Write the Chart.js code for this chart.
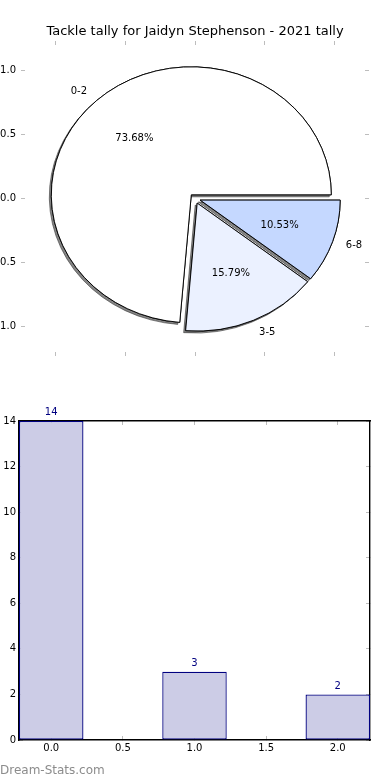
<!DOCTYPE html>
<html>
<head>
<meta charset="utf-8">
<script src="https://cdn.jsdelivr.net/npm/chart.js@4"></script>
<style>
  html, body { margin: 0; padding: 0; background: #fff; }
  #wrap { position: relative; width: 390px; height: 780px; overflow: hidden; }
  #pie { position: absolute; left: 0; top: 0; }
  #bars { position: absolute; left: 0; top: 380px; }
  #mark { position: absolute; left: 0; top: 763px; font: 12px "DejaVu Sans", sans-serif; color: #8c8c8c; }
</style>
</head>
<body>
<div id="wrap">
  <canvas id="pie" width="390" height="380"></canvas>
  <canvas id="bars" width="390" height="400"></canvas>
  <div id="mark">Dream-Stats.com</div>
</div>
<script>
// Données
const TITLE = "Tackle tally for Jaidyn Stephenson - 2021 tally";
const RANGES = ["0-2", "3-5", "6-8"];
const COUNTS = [14, 3, 2];
const BAR_X = [0, 1, 2];

// Styles
const PIE_COLORS = ["#ffffff", "#ebf1ff", "#c5d8ff"];
const FONT = "'DejaVu Sans', sans-serif";
const TICK_GRAY = "#bdbdbd";
const STRETCH_X = 140 / 128;   // la figure d'origine n'a pas un repère égal
const EXPLODE = 5;
const TOTAL = COUNTS.reduce((s, v) => s + v, 0);

Chart.defaults.font.family = FONT;
Chart.defaults.font.size = 10;
Chart.defaults.color = "#000";

function fixWidth(w) { return s => { s.width = w; }; }
function fixHeight(h) { return s => { s.height = h; }; }

function tickAxis(extra) {
  return Object.assign({
    type: "linear",
    offset: false,
    border: { display: false },
    grid: { drawOnChartArea: false, drawTicks: true, tickLength: -4, color: TICK_GRAY, offset: false },
    ticks: { display: false, includeBounds: false }
  }, extra);
}

// ===== Camembert =====
// Chart.js tourne dans le sens horaire : on inverse l'ordre pour retrouver le sens de matplotlib
const pieLabels = RANGES.slice().reverse();
const pieValues = COUNTS.slice().reverse();
const pieColors = PIE_COLORS.slice().reverse();

const pieDraw = {
  id: "pieDraw",
  beforeDatasetsDraw(chart) {
    const ctx = chart.ctx;
    const arcs = chart.getDatasetMeta(0).data;
    const cx = arcs[0].x, cy = arcs[0].y;
    ctx.save();
    ctx.translate(cx, cy);
    ctx.scale(STRETCH_X, 1);
    ctx.translate(-cx, -cy);
    [true, false].forEach(shadow => {
      arcs.forEach(arc => {
        const mid = (arc.startAngle + arc.endAngle) / 2;
        ctx.save();
        if (shadow) {
          ctx.shadowColor = "rgba(50,50,50,0.6)";
          ctx.shadowOffsetX = -2;
          ctx.shadowOffsetY = 2;
          ctx.shadowBlur = 0;
        }
        ctx.translate(Math.cos(mid) * EXPLODE, Math.sin(mid) * EXPLODE);
        arc.draw(ctx);
        ctx.restore();
      });
    });
    ctx.restore();
    return false;
  },
  afterDraw(chart) {
    const ctx = chart.ctx;
    const arcs = chart.getDatasetMeta(0).data;
    ctx.save();
    ctx.font = "10px " + FONT;
    ctx.fillStyle = "#000";
    ctx.textBaseline = "middle";
    arcs.forEach((arc, i) => {
      const mid = (arc.startAngle + arc.endAngle) / 2;
      const c = Math.cos(mid), s = Math.sin(mid);
      const R = arc.outerRadius;
      const lx = arc.x + c * (EXPLODE + 1.1 * R) * STRETCH_X;
      const ly = arc.y + s * (EXPLODE + 1.1 * R);
      ctx.textAlign = c > 0 ? "left" : "right";
      ctx.fillText(pieLabels[i], lx, ly);
      const px = arc.x + c * (EXPLODE + 0.6 * R) * STRETCH_X;
      const py = arc.y + s * (EXPLODE + 0.6 * R);
      ctx.textAlign = "center";
      ctx.fillText((pieValues[i] / TOTAL * 100).toFixed(2) + "%", px, py);
    });
    ctx.restore();
  }
};

new Chart(document.getElementById("pie"), {
  type: "pie",
  data: {
    labels: pieLabels,
    datasets: [{
      data: pieValues,
      backgroundColor: pieColors,
      borderColor: "#000",
      borderWidth: 0.9,
      borderJoinStyle: "miter",
      radius: 128
    }]
  },
  options: {
    responsive: false,
    animation: false,
    events: [],
    rotation: 90,
    layout: { padding: 0 },
    plugins: {
      legend: { display: false },
      tooltip: { enabled: false },
      title: {
        display: true,
        text: TITLE,
        color: "#000",
        font: { family: FONT, size: 13, weight: "normal" },
        padding: { top: 24, bottom: 1.4 }
      }
    },
    scales: {
      x: tickAxis({ position: "bottom", min: -1.243, max: 1.243, afterFit: fixHeight(24), ticks: { display: false, includeBounds: false, stepSize: 0.5 } }),
      x2: tickAxis({ position: "top", axis: "x", min: -1.243, max: 1.243, afterFit: fixHeight(0), ticks: { display: false, includeBounds: false, stepSize: 0.5 } }),
      y: tickAxis({
        position: "left", min: -1.23, max: 1.23, afterFit: fixWidth(21),
        ticks: { display: true, includeBounds: false, stepSize: 0.5, padding: 9, color: "#000", callback: v => v.toFixed(1) }
      }),
      y2: tickAxis({ position: "right", axis: "y", min: -1.23, max: 1.23, afterFit: fixWidth(21), ticks: { display: false, includeBounds: false, stepSize: 0.5 } })
    }
  },
  plugins: [pieDraw]
});

// ===== Histogramme =====
const barValueLabels = {
  id: "barValueLabels",
  afterDraw(chart) {
    const ctx = chart.ctx;
    ctx.save();
    ctx.font = "10px " + FONT;
    ctx.fillStyle = "#000080";
    ctx.textAlign = "center";
    ctx.textBaseline = "middle";
    chart.getDatasetMeta(0).data.forEach((bar, i) => {
      ctx.fillText(String(COUNTS[i]), bar.x, bar.y - 8.5);
    });
    ctx.restore();
  }
};

function frameAxis(extra) {
  const a = tickAxis(extra);
  a.border = { display: true, color: "#000", width: 1.4 };
  return a;
}

new Chart(document.getElementById("bars"), {
  type: "bar",
  data: {
    datasets: [{
      data: BAR_X.map((x, i) => ({ x: x, y: COUNTS[i] })),
      backgroundColor: "rgb(204,204,230)",
      borderColor: "#000080",
      borderWidth: 1.3,
      borderSkipped: false,
      categoryPercentage: 1,
      barPercentage: 0.9
    }]
  },
  options: {
    responsive: false,
    animation: false,
    events: [],
    layout: { padding: 0 },
    plugins: { legend: { display: false }, tooltip: { enabled: false } },
    scales: {
      x: frameAxis({
        position: "bottom", min: -0.225, max: 2.225, afterFit: fixHeight(40),
        ticks: { display: true, includeBounds: false, stepSize: 0.5, padding: 6, color: "#000", callback: v => v.toFixed(1) }
      }),
      x2: frameAxis({ position: "top", axis: "x", min: -0.225, max: 2.225, afterFit: fixHeight(41), ticks: { display: false, includeBounds: false, stepSize: 0.5 } }),
      y: frameAxis({
        position: "left", min: 0, max: 14, afterFit: fixWidth(19),
        ticks: { display: true, includeBounds: false, stepSize: 2, padding: 7, color: "#000" }
      }),
      y2: frameAxis({ position: "right", axis: "y", min: 0, max: 14, afterFit: fixWidth(20), ticks: { display: false, includeBounds: false, stepSize: 2 } })
    }
  },
  plugins: [barValueLabels]
});
</script>
</body>
</html>
